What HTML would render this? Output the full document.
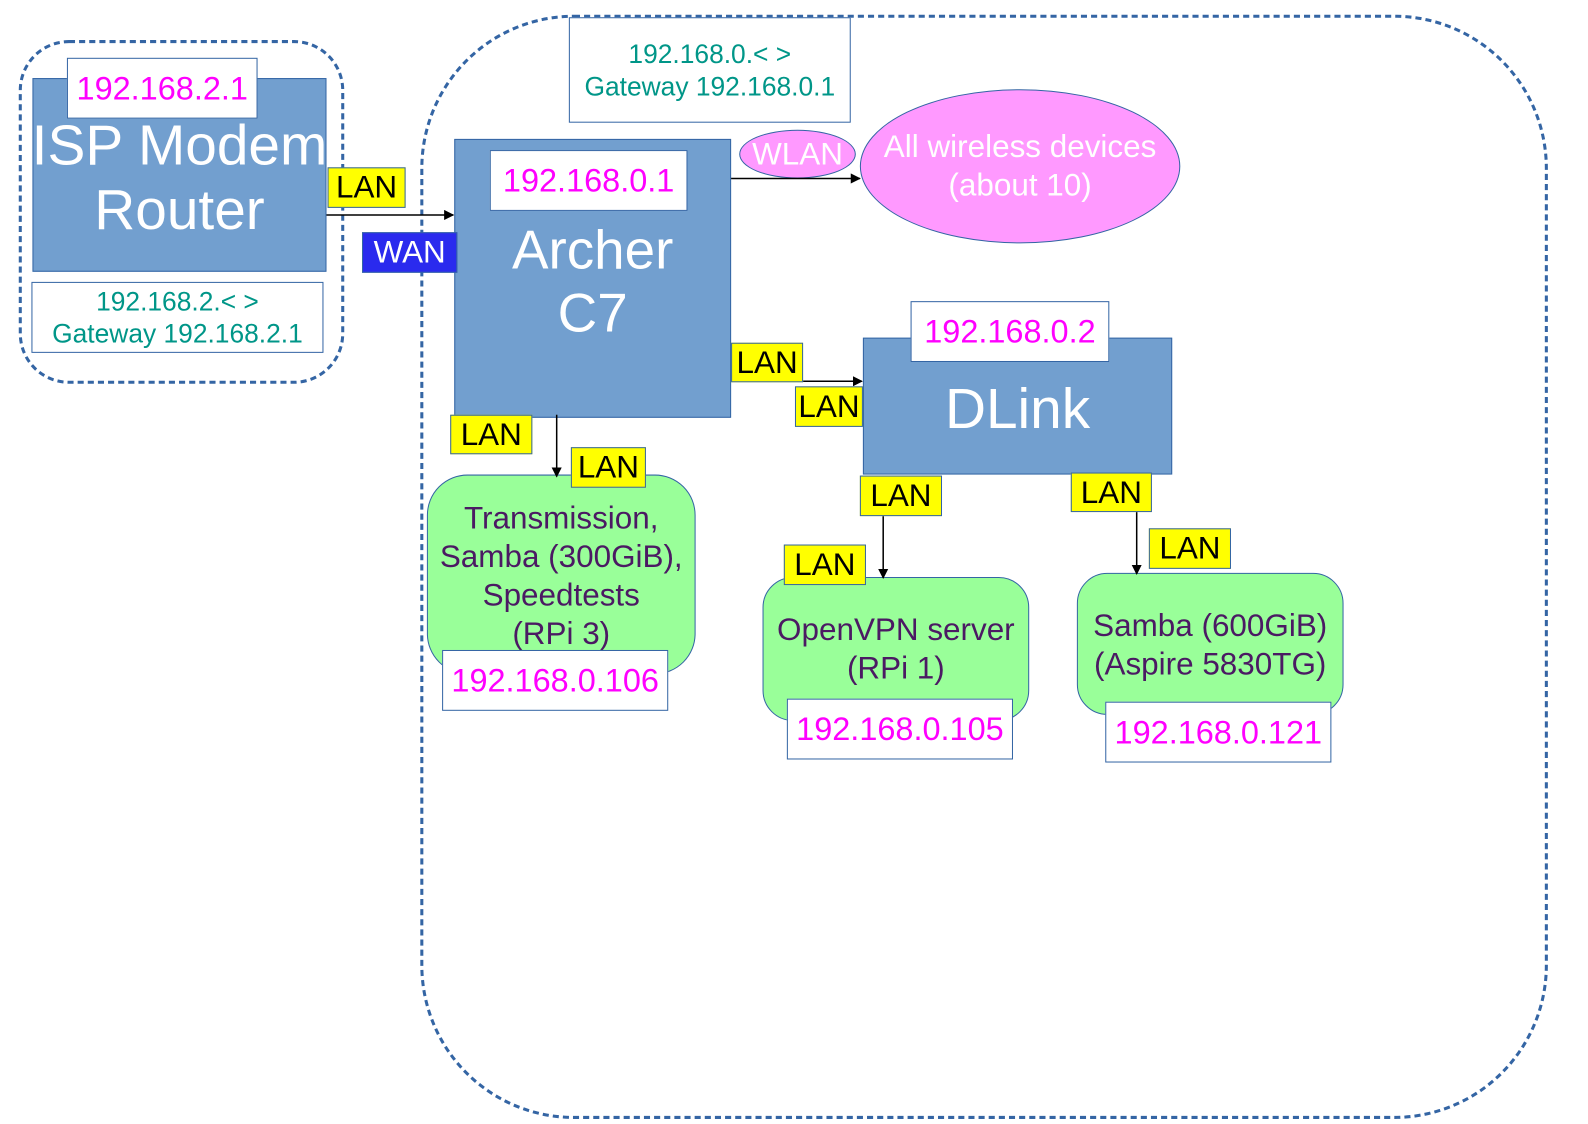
<!DOCTYPE html>
<html><head><meta charset="utf-8"><style>
body{margin:0;width:1588px;height:1123px;background:#fff;position:relative;overflow:hidden;font-family:"Liberation Sans",sans-serif}
#w{position:absolute;left:0;top:0;width:1566px;height:1108px;transform:scale(1.014);transform-origin:0 0}
.a{position:absolute;box-sizing:border-box;display:flex;align-items:center;justify-content:center;text-align:center;white-space:nowrap}
.blue{background:#729fcf;border:1.5px solid #3465a4;color:#fff}
.ip{background:#fff;border:1.5px solid #3465a4;color:#ff00ff;font-size:32px}
.gw{background:#fff;border:1.5px solid #3465a4;color:#009688;font-size:26px;line-height:32px}
.lan{background:#ffff00;border:1.5px solid #3465a4;color:#000;font-size:31px}
.grn{background:#99ff99;border:1.5px solid #3465a4;color:#4b1a63;font-size:31px;line-height:38px}
</style></head><body><div id="w">
<svg width="1566" height="1108" style="position:absolute;left:0;top:0">
<rect x="20" y="41" width="318" height="336" rx="48" fill="none" stroke="#3465a4" stroke-width="3" stroke-dasharray="6,4"/>
<rect x="416" y="16" width="1109" height="1086" rx="150" fill="none" stroke="#3465a4" stroke-width="3" stroke-dasharray="6,4"/>
</svg>
<div class="a blue" style="left:32px;top:77px;width:290px;height:191px;font-size:56px;line-height:64px;padding-top:4px">ISP Modem<br>Router</div>
<div class="a ip" style="left:66px;top:57px;width:188px;height:60px">192.168.2.1</div>
<div class="a gw" style="left:31px;top:278px;width:288px;height:70px">192.168.2.&lt; &gt;<br>Gateway 192.168.2.1</div>
<div class="a gw" style="left:561px;top:17px;width:278px;height:104px">192.168.0.&lt; &gt;<br>Gateway 192.168.0.1</div>
<div class="a blue" style="left:448px;top:137px;width:273px;height:275px;font-size:54px;line-height:62px;align-items:flex-start;padding-top:78px">Archer<br>C7</div>
<div class="a ip" style="left:483px;top:148px;width:195px;height:60px">192.168.0.1</div>
<div class="a" style="left:729px;top:128px;width:115px;height:48px;border-radius:50%;background:#ff99ff;border:1.5px solid #3465a4;color:#fff;font-size:31px">WLAN</div>
<div class="a" style="left:848px;top:88px;width:316px;height:152px;border-radius:50%;background:#ff99ff;border:1.5px solid #3465a4;color:#fff;font-size:31px;line-height:38px">All wireless devices<br>(about 10)</div>
<div class="a blue" style="left:851px;top:333px;width:305px;height:135px;font-size:56px;padding-top:4px">DLink</div>
<div class="a ip" style="left:898px;top:297px;width:196px;height:60px">192.168.0.2</div>
<div class="a grn" style="left:421px;top:468px;width:265px;height:197px;border-radius:40px;align-items:flex-start;padding-top:23px">Transmission,<br>Samba (300GiB),<br>Speedtests<br>(RPi 3)</div>
<div class="a ip" style="left:436px;top:641px;width:223px;height:60px">192.168.0.106</div>
<div class="a grn" style="left:752px;top:569px;width:263px;height:142px;border-radius:30px;align-items:flex-start;padding-top:32px">OpenVPN server<br>(RPi 1)</div>
<div class="a ip" style="left:776px;top:689px;width:223px;height:60px">192.168.0.105</div>
<div class="a grn" style="left:1062px;top:565px;width:263px;height:140px;border-radius:30px;align-items:flex-start;padding-top:32px">Samba (600GiB)<br>(Aspire 5830TG)</div>
<div class="a ip" style="left:1090px;top:692px;width:223px;height:60px">192.168.0.121</div>
<svg width="1566" height="1108" style="position:absolute;left:0;top:0">
<defs><marker id="ar2" markerWidth="10" markerHeight="10" refX="9" refY="5" orient="auto" markerUnits="userSpaceOnUse"><path d="M0,0 L10,5 L0,10 z" fill="#000"/></marker></defs>
<g stroke="#000" stroke-width="1.5" marker-end="url(#ar2)">
<line x1="322" y1="212" x2="447" y2="212"/>
<line x1="721" y1="176" x2="848" y2="176"/>
<line x1="792" y1="376" x2="850" y2="376"/>
<line x1="549" y1="409" x2="549" y2="470"/>
<line x1="871" y1="509" x2="871" y2="570"/>
<line x1="1121" y1="505" x2="1121" y2="566"/>
</g></svg>
<div class="a lan" style="left:323px;top:165px;width:77px;height:40px">LAN</div>
<div class="a" style="left:357px;top:229px;width:94px;height:40px;background:#2a2aee;border:1.5px solid #3465a4;color:#fff;font-size:31px">WAN</div>
<div class="a lan" style="left:721px;top:338px;width:71px;height:39px">LAN</div>
<div class="a lan" style="left:784px;top:381px;width:67px;height:40px">LAN</div>
<div class="a lan" style="left:444px;top:409px;width:81px;height:39px">LAN</div>
<div class="a lan" style="left:563px;top:441px;width:74px;height:40px">LAN</div>
<div class="a lan" style="left:848px;top:469px;width:81px;height:40px">LAN</div>
<div class="a lan" style="left:773px;top:537px;width:81px;height:40px">LAN</div>
<div class="a lan" style="left:1056px;top:466px;width:80px;height:39px">LAN</div>
<div class="a lan" style="left:1133px;top:521px;width:81px;height:40px">LAN</div>
</div></body></html>
